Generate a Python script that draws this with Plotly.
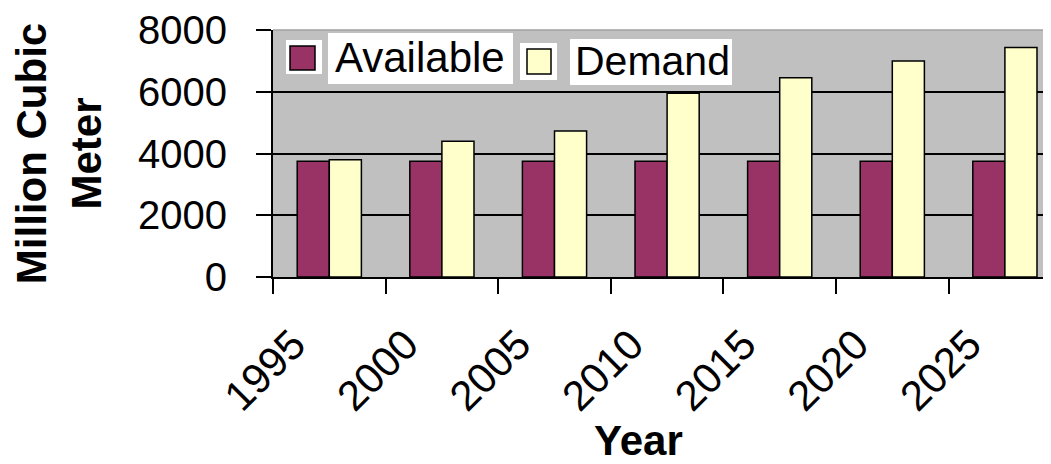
import plotly.graph_objects as go

years = ["1995", "2000", "2005", "2010", "2015", "2020", "2025"]
available = [3750, 3750, 3750, 3750, 3750, 3750, 3750]
demand = [3800, 4400, 4730, 5950, 6450, 7000, 7430]
y_ticks = [0, 2000, 4000, 6000, 8000]

# the page body has an 8px margin: the figure starts at (8, 8) in the window
OFF = 8
W, H = 1051 - OFF, 464 - OFF
L, R, T, B = 273 - OFF, 0, 30 - OFF, 187
PW = W - L - R
PH = H - T - B

# helpers converting window pixels to paper coordinates (legend decoration only)
def px(x):
    return (x - OFF - L) / PW

def py(y):
    return (H - B - (y - OFF)) / PH

FONT = "Arial, Liberation Sans, sans-serif"

fig = go.Figure()
fig.add_trace(go.Bar(x=years, y=available, name="Available",
                     marker=dict(color="#993366", line=dict(color="black", width=1.5))))
fig.add_trace(go.Bar(x=years, y=demand, name="Demand",
                     marker=dict(color="#FFFFCC", line=dict(color="black", width=1.5))))

shapes = []
shapes.append(dict(type="line", xref="paper", yref="paper", x0=0, x1=1, y0=1, y1=1,
                   line=dict(color="#A0A0A0", width=1.5), layer="above"))

def rect(x0, y0, x1, y1, fill, lw=0):
    return dict(type="rect", xref="paper", yref="paper",
                x0=px(x0), x1=px(x1), y0=py(y1), y1=py(y0),
                fillcolor=fill, line=dict(color="black", width=lw), layer="above")

shapes += [
    rect(286, 40, 322, 74, "white"),
    rect(290, 46, 315, 70, "#993366", 1.5),
    rect(328, 33, 513, 84, "white"),
    rect(520, 43, 557, 80, "white"),
    rect(527, 49, 551, 74, "#FFFFCC", 1.5),
    rect(570, 39, 732, 85, "white"),
]

annotations = [
    dict(text="Available", xref="paper", yref="paper", x=px(333), y=py(57),
         xanchor="left", yanchor="middle", showarrow=False,
         font=dict(family=FONT, size=42, color="black")),
    dict(text="Demand", xref="paper", yref="paper", x=px(573), y=py(61),
         xanchor="left", yanchor="middle", showarrow=False,
         font=dict(family=FONT, size=41, color="black")),
    dict(text="<b>Year</b>", xref="paper", yref="paper", x=px(638), y=py(440),
         xanchor="center", yanchor="middle", showarrow=False,
         font=dict(family=FONT, size=42, color="black")),
]

fig.update_layout(
    width=W, height=H,
    margin=dict(l=L, r=R, t=T, b=B, pad=0),
    paper_bgcolor="white",
    plot_bgcolor="#C0C0C0",
    barmode="group",
    bargap=0.43,
    bargroupgap=0,
    showlegend=False,
    shapes=shapes,
    annotations=annotations,
    font=dict(family=FONT, color="black"),
)

fig.update_xaxes(
    type="category", range=[-0.5, -0.5 + PW / 112.6],
    tickson="boundaries", ticks="outside", ticklen=15, tickwidth=2, tickcolor="black",
    tickangle=-45, tickfont=dict(family=FONT, size=42, color="black"),
    ticklabelshift=-36, ticklabelstandoff=24,
    showline=True, linecolor="black", linewidth=2, showgrid=False,
)
fig.update_yaxes(
    range=[0, 8000], tickvals=y_ticks, ticktext=[str(v) for v in y_ticks],
    ticks="outside", ticklen=15, tickwidth=2, tickcolor="black",
    tickfont=dict(family=FONT, size=40, color="black"),
    ticklabelstandoff=21,
    showline=True, linecolor="black", linewidth=2,
    showgrid=True, gridcolor="black", gridwidth=1.5, zeroline=False,
    title=dict(text="<b>Million Cubic<br>Meter</b>", standoff=32,
               font=dict(family=FONT, size=42, color="black")),
)

fig.write_html("out.html")
